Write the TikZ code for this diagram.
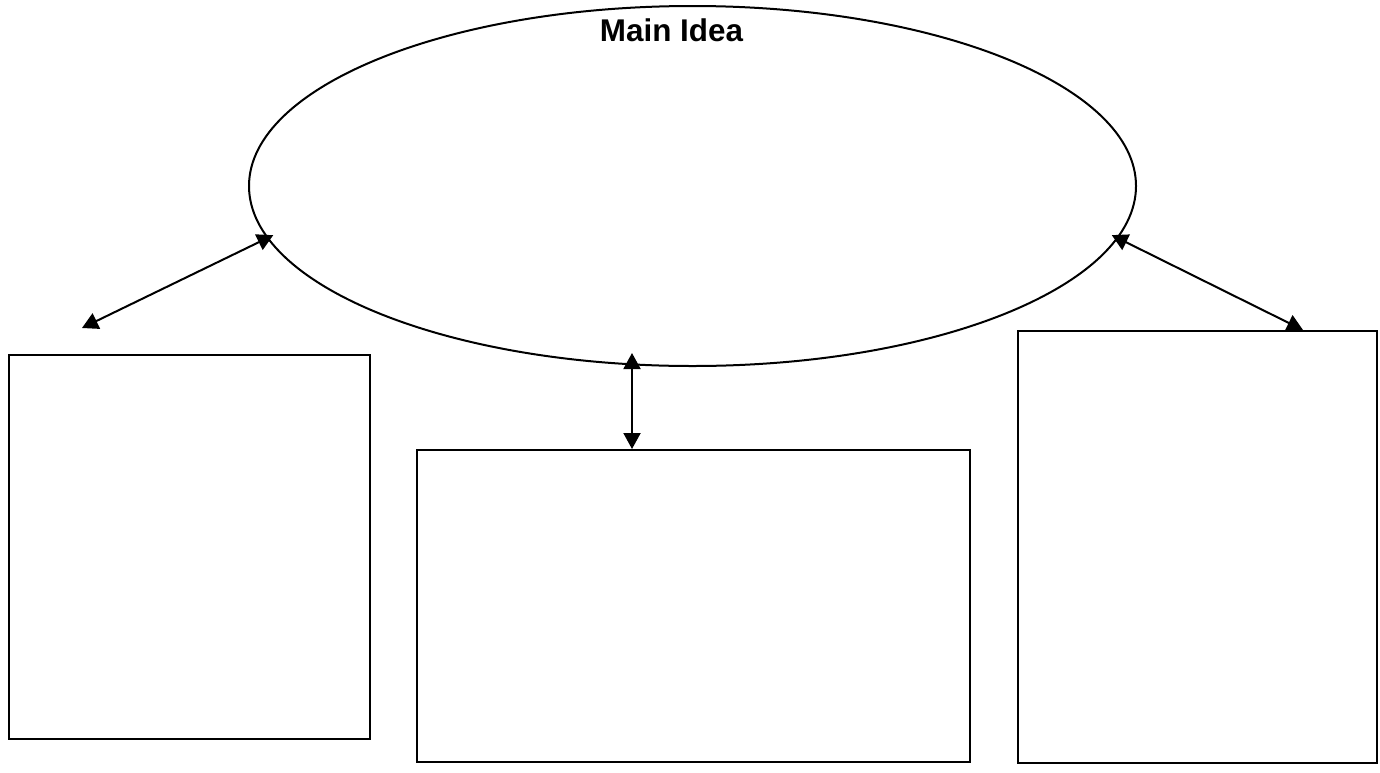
\documentclass[tikz,border=0pt]{standalone}
\usepackage{fontspec}
\setmainfont{Liberation Sans}
\usetikzlibrary{shapes.geometric,arrows.meta,positioning}

\begin{document}
\begin{tikzpicture}[x=0.5pt,y=-0.5pt,
      oval/.style={ellipse, draw=black, line width=1pt, inner sep=0pt, minimum width=443.5pt, minimum height=180pt},
      kasten/.style={rectangle, draw=black, line width=1pt, inner sep=0pt, anchor=north west},
      pfeil/.style={{Triangle[length=8pt,width=8.5pt]}-{Triangle[length=8pt,width=8.5pt]}, line width=1pt}]

\useasboundingbox (0,0) rectangle (1380,772);

\node[oval] (idea) at (692.5,186) {};
\node[anchor=base, font=\bfseries\fontsize{15.7}{18}\selectfont] (titel) at (671.5,41) {Main Idea};

\node[kasten, minimum width=180.5pt, minimum height=192pt] (k1) at (8,354) {};
\node[kasten, minimum width=276.5pt, minimum height=156pt] (k2) at (416,449) {};
\node[kasten, minimum width=179.5pt, minimum height=216pt] (k3) at (1017,330) {};

\coordinate (lb) at (82,328);
\coordinate (mt) at (632,353);
\coordinate (rb) at (1303,330);

\draw[pfeil, shorten <=-3.5pt] (idea.187.5) -- (lb);
\draw[pfeil] (mt) -- (mt |- k2.north);
\draw[pfeil, shorten <=-3.5pt] (idea.-7.5) -- (rb);

\end{tikzpicture}
\end{document}
